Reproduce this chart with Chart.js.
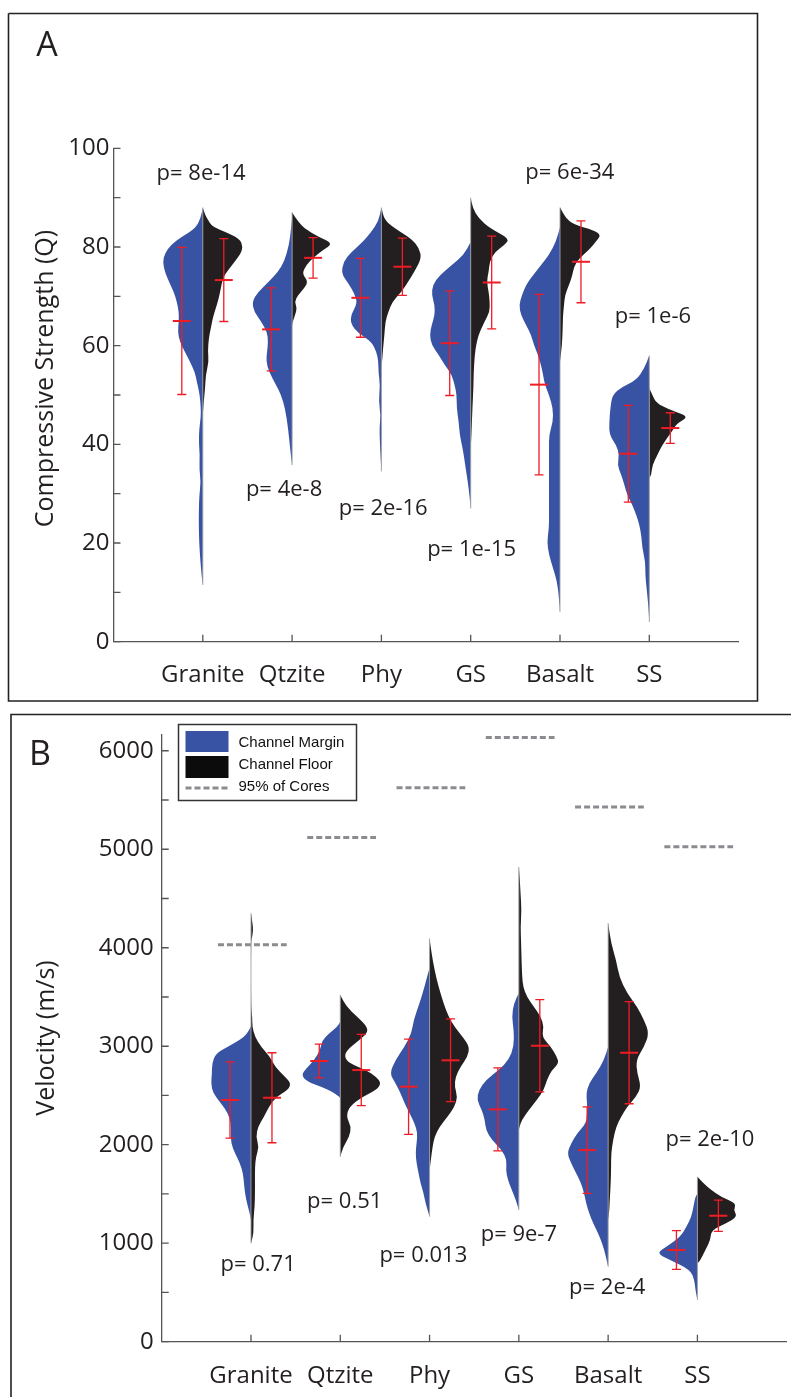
<!DOCTYPE html>
<html>
<head>
<meta charset="utf-8">
<script src="https://cdn.jsdelivr.net/npm/chart.js@4"></script>
<style>
  body { margin: 0; background: #fff; width: 791px; height: 1397px; position: relative; overflow: hidden; }
  canvas { position: absolute; left: 0; }
  #panelA { top: 0; }
  #panelB { top: 705px; }
</style>
</head>
<body>
<canvas id="panelA" width="791" height="705"></canvas>
<canvas id="panelB" width="791" height="692"></canvas>
<script>
const categories = ['Granite', 'Qtzite', 'Phy', 'GS', 'Basalt', 'SS'];

// ---- A: compressive strength (Q) ----
// density profiles, [value, density] from top of the violin down
const strengthMargin = [
  [[88,0],[86,2],[83.8,7],[82.1,21],[80.4,32],[78.7,38],[77,40],[75,38],[73,34],[70.9,29],[68.9,26],[66.9,24],[64.9,24],[62.8,25],[60.8,23],[58.8,18],[56.8,13],[54.7,8],[52.7,6],[50,3],[47.3,2],[45.5,2],[43.3,3.5],[40.5,4],[37.8,3],[35,3.5],[32.4,2],[29.7,3.5],[26.4,4],[23,4],[19.6,3.5],[16,2.3],[12.5,0.7],[11.5,0]],
  [[86,0],[83.8,1],[80.4,3],[77,8],[75,14],[73,23],[70.9,34],[68.9,40],[66.9,38],[64.9,31],[62.8,25],[60.8,24],[58.8,25],[56.8,26],[54.7,23],[52,16],[50,11],[47.3,7],[43.3,4],[39.2,2],[35.8,0]],
  [[88,0],[85.2,3],[83.1,10],[81.1,18],[79,30],[77,38],[74.6,40],[72.6,33],[70.6,27],[68.6,24],[66.5,30],[64.5,31],[62.5,23],[60.8,10],[58.8,5],[56.8,3],[54.7,3],[52,1.3],[48.7,2.7],[46,0.7],[43.3,2],[39.2,1.3],[34.5,0]],
  [[81,0],[78.4,7],[76.3,19],[74.3,31],[72.3,38],[70.3,39],[68.2,36],[66.2,36],[64.2,39],[62.2,41],[60.1,39],[58.1,32],[56.1,26],[54.1,19],[52,16],[50,14],[47.3,14],[44.6,12],[41.9,11],[39.2,8],[36.5,6],[33.8,4],[31.1,2],[27,0]],
  [[84,0],[81.1,4],[78.4,11],[76.3,19],[74.3,27],[72.3,34],[70.3,38],[68.2,41],[66.2,39],[64.2,34],[62.2,29],[60.1,26],[58.1,22],[56.1,19],[54.1,17],[52,15],[50,11],[47.3,7],[44.6,7],[41.9,11],[39.2,11],[36.5,11],[33.8,11],[31.1,11],[28.4,11],[25.7,11],[23,11],[20.3,13],[17.6,11],[14.9,7],[12.2,3],[9.5,1.3],[6,0]],
  [[58,0],[55.4,5],[53,13],[51.7,27],[50,37],[47.3,39],[44.6,40],[41.9,40],[39.9,33],[37.8,30],[35.8,32],[33.8,28],[31.8,25],[29.7,22],[27.7,17],[25.7,13],[23.7,10],[21.6,8],[18.9,7],[16.2,4],[13.5,4],[10.8,2.7],[8.1,1.3],[4,0]]
];
const strengthFloor = [
  [[88,0],[86.5,2.3],[84.8,7],[84,11],[83.1,22],[81.7,37],[80,40],[78.7,38],[77,32],[75,24],[73.6,20],[71.6,18],[69.6,16],[67.6,13],[65.6,10],[63.5,8],[61.5,6],[58.8,5],[56.8,6],[54.1,3],[51.4,2.3],[48.7,1],[46,0]],
  [[87,0],[85.2,6],[83.8,12],[82.1,26],[80.7,41],[79.4,31],[78,22],[76.3,14],[74.6,10],[73,16],[71.6,12],[70.3,6],[68.9,2.5],[67.6,5],[66.2,3],[64.9,0.7],[64,0]],
  [[88,0],[85.5,3],[83.8,13],[81.7,30],[79.7,38],[77.7,40],[75,33],[73,27],[70.9,20],[68.9,11],[66.9,7],[64.9,4],[62.2,3],[59.5,1.7],[56.8,0.7],[55.5,0]],
  [[90,0],[87.9,2],[85.8,8],[83.8,19],[81.7,39],[80.4,34],[79,24],[77,19],[75,18],[73,16],[70.9,18],[68.9,19],[66.9,19],[64.9,14],[62.8,9],[60.8,6],[58.1,4],[54.7,3],[51.4,2.7],[47.3,1.7],[43.3,1],[39,0]],
  [[88,0],[85.8,6],[84.5,14],[83.4,34],[82.4,41],[81.1,36],[79.4,29],[77.7,19],[76,14],[74,12],[72.3,9],[70.3,5],[68.2,4],[66.2,3],[63.5,2.7],[60.1,2],[56.8,0]],
  [[51.4,0],[50,3],[48.4,7],[47,20],[46,35],[45.3,37],[44.3,28],[43.3,25],[41.9,20],[39.9,13],[37.8,8],[35.8,3],[33.8,2],[33.2,0]]
];
const strengthMarginMean = [65.0, 63.3, 69.7, 60.5, 52.1, 38.1];
const strengthMarginSd = [14.9, 8.4, 8.0, 10.6, 18.3, 9.8];
const strengthFloorMean = [73.3, 77.8, 76.0, 72.8, 77.0, 43.3];
const strengthFloorSd = [8.4, 4.1, 5.8, 9.4, 8.3, 3.1];
const strengthTicks = [0, 10, 20, 30, 40, 50, 60, 70, 80, 90, 100];
const strengthP = ['p= 8e-14', 'p= 4e-8', 'p= 2e-16', 'p= 1e-15', 'p= 6e-34', 'p= 1e-6'];
const strengthPAnchor = [[0.98, 94.8], [1.91, 30.8], [3.02, 26.9], [4.01, 18.6], [5.11, 95.0], [6.04, 65.8]];

// ---- B: velocity (m/s) ----
const velocityMargin = [
  [[3200,0],[3096,6],[2995,23],[2928,35],[2826,39],[2725,39],[2623,40],[2522,38],[2420,30],[2319,23],[2217,20],[2116,20],[2014,20],[1913,16],[1811,11],[1710,8],[1608,7],[1507,6],[1405,4],[1304,1.3],[1236,0]],
  [[3250,0],[3198,3],[3131,11],[3063,18],[2962,20],[2860,26],[2776,34],[2707,39],[2640,33],[2589,19],[2538,8],[2487,1],[2470,0]],
  [[3800,0],[3604,5],[3435,10],[3266,16],[3131,18],[2995,25],[2860,34],[2725,40],[2623,34],[2522,29],[2420,25],[2319,20],[2217,15],[2116,12],[2014,13],[1913,14],[1811,13],[1710,11],[1608,9],[1507,6],[1405,4],[1270,0]],
  [[3540,0],[3435,5],[3300,7],[3164,5],[2995,5],[2860,10],[2758,20],[2657,33],[2555,40],[2454,42],[2352,37],[2251,34],[2149,33],[2048,27],[1946,17],[1845,12],[1743,13],[1642,11],[1540,7],[1439,3],[1337,0]],
  [[2995,0],[2860,4],[2725,12],[2623,19],[2522,22],[2420,21],[2319,21],[2217,22],[2116,31],[2014,37],[1913,41],[1811,37],[1710,32],[1608,27],[1507,24],[1405,22],[1304,19],[1202,15],[1100,10],[999,6],[897,3],[762,0]],
  [[1500,0],[1472,2],[1371,4],[1269,6],[1167,11],[1066,17],[964,31],[897,41],[829,27],[728,7],[626,3],[525,2],[423,0]]
];
const velocityFloor = [
  [[4350,0],[4250,1.5],[4180,2.2],[4100,1],[4060,0],[3400,0],[3300,1.3],[3198,1.3],[3096,4],[2995,10],[2893,19],[2792,24],[2690,34],[2623,40],[2555,37],[2487,25],[2386,18],[2284,13],[2183,7],[2081,5],[1980,8],[1878,5],[1777,4],[1642,4],[1507,4],[1371,3.7],[1236,2.3],[1100,2.7],[999,0]],
  [[3520,0],[3401,6],[3300,17],[3198,27],[3131,27],[3046,17],[2962,7],[2893,4],[2826,9],[2758,26],[2690,36],[2623,41],[2555,36],[2487,22],[2386,9],[2284,6],[2183,11],[2081,9],[1980,3],[1878,0]],
  [[4095,0],[3943,2],[3773,5],[3604,9],[3435,14],[3300,19],[3198,25],[3096,33],[2995,40],[2893,38],[2792,31],[2690,26],[2589,25],[2487,28],[2386,25],[2284,18],[2183,10],[2081,5],[1980,3],[1845,1.3],[1743,0]],
  [[4820,0],[4687,1],[4552,1.7],[4383,2.7],[4213,1.7],[4044,2.3],[3875,2.7],[3706,3.3],[3604,4.3],[3503,8],[3401,15],[3300,22],[3198,25],[3096,23],[2995,32],[2893,38],[2826,40],[2758,33],[2657,28],[2555,25],[2454,18],[2352,10],[2251,3],[2183,0.7],[2150,0]],
  [[4250,0],[4044,3],[3875,8],[3706,11],[3537,19],[3401,29],[3266,36],[3131,41],[2995,36],[2860,28],[2725,29],[2589,33],[2487,28],[2386,19],[2284,13],[2183,8],[2048,5],[1913,3],[1777,3],[1642,2.7],[1507,2],[1304,1],[1240,0]],
  [[1675,0],[1608,6],[1540,14],[1472,23],[1405,39],[1337,36],[1269,40],[1202,29],[1134,14],[1032,13],[931,8],[829,3],[795,0]]
];
const velocityMarginMean = [2454, 2850, 2589, 2359, 1946, 931];
const velocityMarginSd = [388, 172, 484, 422, 439, 196];
const velocityFloorMean = [2477, 2758, 2857, 3005, 2934, 1279];
const velocityFloorSd = [457, 362, 420, 469, 518, 158];
const velocityCores95 = [4030, 5120, 5625, 6135, 5430, 5025];
const velocityTicks = [0, 500, 1000, 1500, 2000, 2500, 3000, 3500, 4000, 4500, 5000, 5500, 6000];
const velocityP = ['p= 0.71', 'p= 0.51', 'p= 0.013', 'p= 9e-7', 'p= 2e-4', 'p= 2e-10'];
const velocityPAnchor = [[1.08, 779], [2.05, 1421], [2.93, 873], [4.0, 1083], [4.99, 545], [6.14, 2047]];

const BLUE = '#3953a4';
const BLACK = '#231f20';
const RED = '#ee1c25';
const GREY = '#8b8b90';
const FONT = "'Open Sans', sans-serif";
const halfWidthPerDensity = 1 / 89.3;   // x units per density unit
const barOffset = 0.235;                // error bars sit beside the centre line

// trace points with light smoothing through midpoints
function trace(ctx, pts) {
  ctx.moveTo(pts[0][0], pts[0][1]);
  for (let k = 1; k < pts.length - 1; k++) {
    const mx = (pts[k][0] + pts[k + 1][0]) / 2;
    const my = (pts[k][1] + pts[k + 1][1]) / 2;
    ctx.quadraticCurveTo(pts[k][0], pts[k][1], mx, my);
  }
  const last = pts[pts.length - 1];
  ctx.lineTo(last[0], last[1]);
}

function drawHalf(ctx, x, y, center, profile, side, color) {
  const pts = [[x.getPixelForValue(center), y.getPixelForValue(profile[0][0])]];
  profile.forEach(([v, d]) => {
    pts.push([x.getPixelForValue(center + side * d * halfWidthPerDensity), y.getPixelForValue(v)]);
  });
  pts.push([x.getPixelForValue(center), y.getPixelForValue(profile[profile.length - 1][0])]);
  ctx.beginPath();
  trace(ctx, pts);
  ctx.closePath();
  ctx.fillStyle = color;
  ctx.fill();
}

function drawErrorBar(ctx, x, y, xv, mean, sd) {
  const px = x.getPixelForValue(xv);
  const yt = y.getPixelForValue(mean + sd);
  const yb = y.getPixelForValue(mean - sd);
  const ym = y.getPixelForValue(mean);
  ctx.strokeStyle = RED;
  ctx.lineWidth = 1.3;
  ctx.beginPath();
  ctx.moveTo(px, yt); ctx.lineTo(px, yb);
  ctx.moveTo(px - 4.5, yt); ctx.lineTo(px + 4.5, yt);
  ctx.moveTo(px - 4.5, yb); ctx.lineTo(px + 4.5, yb);
  ctx.stroke();
  ctx.lineWidth = 2;
  ctx.beginPath();
  ctx.moveTo(px - 9, ym); ctx.lineTo(px + 9, ym);
  ctx.stroke();
}

function violinLayer(panel) {
  return {
    id: 'violinLayer',
    afterDraw(chart) {
      const { ctx, chartArea: area, scales: { x, y } } = chart;
      ctx.save();

      // panel frame
      ctx.strokeStyle = '#222';
      ctx.lineWidth = 1.6;
      ctx.beginPath();
      panel.frame.forEach(([fx, fy], k) => k ? ctx.lineTo(fx, fy) : ctx.moveTo(fx, fy));
      ctx.stroke();

      // inward tick marks
      ctx.strokeStyle = '#555';
      ctx.lineWidth = 1.3;
      ctx.beginPath();
      y.ticks.forEach(t => {
        const py = y.getPixelForValue(t.value);
        ctx.moveTo(area.left, py); ctx.lineTo(area.left + 7, py);
      });
      categories.forEach((_, i) => {
        const px = x.getPixelForValue(i + 1);
        ctx.moveTo(px, area.bottom); ctx.lineTo(px, area.bottom - 7);
      });
      ctx.stroke();

      // 95% of cores markers
      if (panel.cores) {
        ctx.strokeStyle = GREY;
        ctx.lineWidth = 3;
        ctx.setLineDash([6, 3]);
        panel.cores.forEach((v, i) => {
          const py = y.getPixelForValue(v);
          ctx.beginPath();
          ctx.moveTo(x.getPixelForValue(i + 1 - 0.37), py);
          ctx.lineTo(x.getPixelForValue(i + 1 + 0.40), py);
          ctx.stroke();
        });
        ctx.setLineDash([]);
      }

      categories.forEach((_, i) => {
        const c = i + 1;
        const m = panel.margin[i], f = panel.floor[i];
        drawHalf(ctx, x, y, c, m, -1, BLUE);
        drawHalf(ctx, x, y, c, f, 1, BLACK);
        const top = Math.max(m[0][0], f[0][0]);
        const bottom = Math.min(m[m.length - 1][0], f[f.length - 1][0]);
        ctx.strokeStyle = 'rgba(160,160,160,0.9)';
        ctx.lineWidth = 1;
        ctx.beginPath();
        ctx.moveTo(x.getPixelForValue(c), y.getPixelForValue(top));
        ctx.lineTo(x.getPixelForValue(c), y.getPixelForValue(bottom));
        ctx.stroke();
        drawErrorBar(ctx, x, y, c - barOffset, panel.marginMean[i], panel.marginSd[i]);
        drawErrorBar(ctx, x, y, c + barOffset, panel.floorMean[i], panel.floorSd[i]);
      });

      // p-values
      ctx.fillStyle = BLACK;
      ctx.font = `22px ${FONT}`;
      ctx.textAlign = 'center';
      ctx.textBaseline = 'middle';
      panel.p.forEach((txt, i) => {
        const [ax, ay] = panel.pAnchor[i];
        ctx.fillText(txt, x.getPixelForValue(ax), y.getPixelForValue(ay));
      });

      // panel letter and axis title
      ctx.font = `34px ${FONT}`;
      ctx.fillText(panel.letter, panel.letterAt[0], panel.letterAt[1]);
      ctx.save();
      ctx.translate(panel.titleAt[0], panel.titleAt[1]);
      ctx.rotate(-Math.PI / 2);
      ctx.font = `25px ${FONT}`;
      ctx.fillText(panel.title, 0, 0);
      ctx.restore();

      if (panel.legend) {
        const lx = 178.5, ly = 19.5;
        ctx.strokeStyle = '#333';
        ctx.lineWidth = 1.5;
        ctx.strokeRect(lx, ly, 178, 76);
        ctx.fillStyle = BLUE;
        ctx.fillRect(lx + 7, ly + 6.5, 43, 21);
        ctx.fillStyle = '#0c0c0c';
        ctx.fillRect(lx + 7, ly + 31.5, 43, 22);
        ctx.strokeStyle = GREY;
        ctx.lineWidth = 3;
        ctx.setLineDash([6, 3]);
        ctx.beginPath();
        ctx.moveTo(lx + 7, ly + 63.5); ctx.lineTo(lx + 50, ly + 63.5);
        ctx.stroke();
        ctx.setLineDash([]);
        ctx.fillStyle = '#111';
        ctx.font = "15px 'Liberation Sans', Arial, sans-serif";
        ctx.textAlign = 'left';
        ['Channel Margin', 'Channel Floor', '95% of Cores'].forEach((t, k) => {
          ctx.fillText(t, lx + 60, ly + 18 + k * 22);
        });
      }
      ctx.restore();
    }
  };
}

function makePanel(id, panel) {
  const tickFont = { family: FONT, size: 24 };
  return new Chart(document.getElementById(id), {
    type: 'scatter',
    data: { datasets: [] },
    options: {
      responsive: false,
      animation: false,
      events: [],
      layout: { padding: panel.padding },
      plugins: { legend: { display: false }, tooltip: { enabled: false } },
      scales: {
        x: {
          type: 'linear', min: 0, max: 7,
          afterFit: s => {
            s.height = panel.xHeight;
            s.paddingLeft = 0;
            s.paddingRight = 0;
          },
          grid: { display: false, drawTicks: false },
          border: { display: true, color: '#555', width: 1.3 },
          ticks: {
            stepSize: 1, autoSkip: false, maxRotation: 0, padding: panel.xPad,
            font: tickFont, color: BLACK,
            callback: v => categories[v - 1] || ''
          }
        },
        y: {
          type: 'linear', min: 0, max: panel.yMax,
          afterBuildTicks: s => { s.ticks = panel.ticks.map(value => ({ value })); },
          afterFit: s => { s.width = panel.yWidth; },
          grid: { display: false, drawTicks: false },
          border: { display: true, color: '#555', width: 1.3 },
          ticks: {
            autoSkip: false, padding: panel.yPad,
            font: tickFont, color: BLACK,
            callback: v => (v % panel.labelStep === 0 ? String(v) : '')
          }
        }
      }
    },
    plugins: [violinLayer(panel)]
  });
}

makePanel('panelA', {
  margin: strengthMargin, floor: strengthFloor,
  marginMean: strengthMarginMean, marginSd: strengthMarginSd,
  floorMean: strengthFloorMean, floorSd: strengthFloorSd,
  p: strengthP, pAnchor: strengthPAnchor,
  ticks: strengthTicks, yMax: 100, labelStep: 20,
  padding: { top: 148.3, right: 52.4, left: 0, bottom: 0 },
  yWidth: 113.5, xHeight: 63.3, xPad: 19, yPad: 4,
  frame: [[8.5, 13.5], [757.5, 13.5], [757.5, 701], [8.5, 701], [8.5, 13.5]],
  letter: 'A', letterAt: [47, 46],
  title: 'Compressive Strength (Q)', titleAt: [46, 378.5]
});

makePanel('panelB', {
  margin: velocityMargin, floor: velocityFloor,
  marginMean: velocityMarginMean, marginSd: velocityMarginSd,
  floorMean: velocityFloorMean, floorSd: velocityFloorSd,
  cores: velocityCores95,
  p: velocityP, pAnchor: velocityPAnchor,
  ticks: velocityTicks, yMax: 6160, labelStep: 1000,
  padding: { top: 30, right: 4.3, left: 0, bottom: 0 },
  yWidth: 161.7, xHeight: 55.3, xPad: 20, yPad: 8,
  frame: [[11, 692], [11, 9.5], [791, 9.5]],
  letter: 'B', letterAt: [40, 50],
  title: 'Velocity (m/s)', titleAt: [47, 333],
  legend: true
});
</script>
</body>
</html>
